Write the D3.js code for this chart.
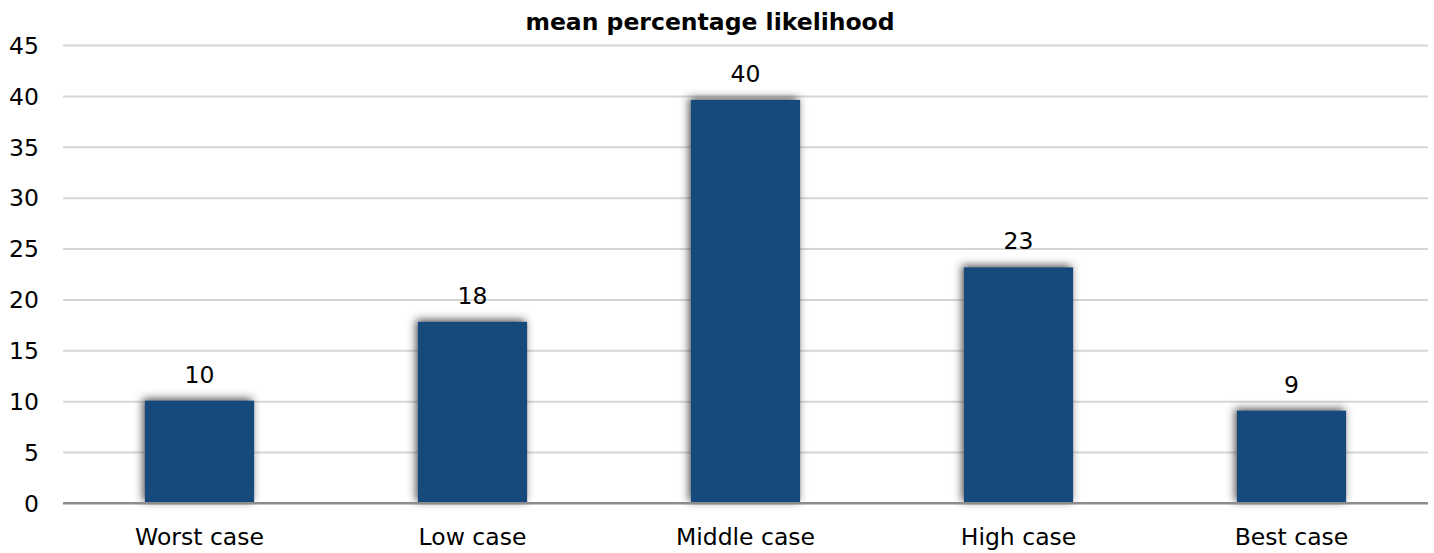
<!DOCTYPE html>
<html>
<head>
<meta charset="utf-8">
<script src="https://cdn.jsdelivr.net/npm/d3@7"></script>
<style>
html,body{margin:0;padding:0;background:#fff;}
svg{display:block;font-family:"DejaVu Sans",sans-serif;}
</style>
</head>
<body>
<svg id="chart" width="1434" height="553"></svg>
<script>
const categories = ["Worst case", "Low case", "Middle case", "High case", "Best case"];
const values = [10.05, 17.8, 39.6, 23.15, 9.07];
const valueLabels = ["10", "18", "40", "23", "9"];
const yTicks = [0, 5, 10, 15, 20, 25, 30, 35, 40, 45];
const titleText = "mean percentage likelihood";

const svg = d3.select("#chart");
const margin = {left: 63, right: 6, top: 45, bottom: 50};
const W = 1434, H = 553;

const x = d3.scaleBand().domain(categories)
  .range([margin.left, W - margin.right])
  .paddingInner(0.6).paddingOuter(0.3);
const y = d3.scaleLinear().domain([0, 45]).range([503, 45]);

const defs = svg.append("defs");
const f = defs.append("filter").attr("id", "shadow")
  .attr("x", "-30%").attr("y", "-30%").attr("width", "160%").attr("height", "160%");
f.append("feDropShadow").attr("dx", -2).attr("dy", -2).attr("stdDeviation", 4)
  .attr("flood-color", "#303030").attr("flood-opacity", 0.85);

// gridlines
const yAxis = d3.axisLeft(y).tickValues(yTicks).tickSize(-(W - margin.right - margin.left)).tickPadding(24);
const gy = svg.append("g").attr("transform", `translate(${margin.left},0)`).call(yAxis);
gy.select(".domain").remove();
gy.selectAll(".tick line").attr("stroke", "#d6d6d6").attr("stroke-width", 2)
  .filter(d => d === 0).attr("stroke", "#8c8c8c");
gy.selectAll(".tick text").attr("font-size", 23.5).attr("fill", "#000")
  .attr("font-family", "DejaVu Sans").attr("x", 39 - margin.left).attr("dy", "0.35em");

// bars
svg.append("g").selectAll("rect").data(categories).join("rect")
  .attr("x", d => x(d))
  .attr("width", x.bandwidth())
  .attr("y", (d, i) => y(values[i]))
  .attr("height", (d, i) => y(0) - y(values[i]))
  .attr("fill", "#174a7c")
  .attr("filter", "url(#shadow)");

// baseline on top
svg.append("line").attr("x1", margin.left).attr("x2", W - margin.right)
  .attr("y1", y(0)).attr("y2", y(0)).attr("stroke", "#8c8c8c").attr("stroke-width", 2);

// value labels
svg.append("g").selectAll("text").data(categories).join("text")
  .attr("x", d => x(d) + x.bandwidth() / 2)
  .attr("y", (d, i) => y(values[i]) - 18)
  .attr("text-anchor", "middle")
  .attr("font-size", 23.5).attr("fill", "#000")
  .text((d, i) => valueLabels[i]);

// x axis labels
const xAxis = d3.axisBottom(x).tickSize(0).tickPadding(0);
const gx = svg.append("g").attr("transform", `translate(0,${y(0)})`).call(xAxis);
gx.select(".domain").remove();
gx.selectAll(".tick text").attr("font-size", 23.5).attr("fill", "#000")
  .attr("font-family", "DejaVu Sans").attr("y", 42).attr("dy", 0);

// title
svg.append("text").attr("x", 710).attr("y", 30).attr("text-anchor", "middle")
  .attr("font-size", 23.5).attr("font-weight", "bold").attr("fill", "#000")
  .text(titleText);
</script>
</body>
</html>
